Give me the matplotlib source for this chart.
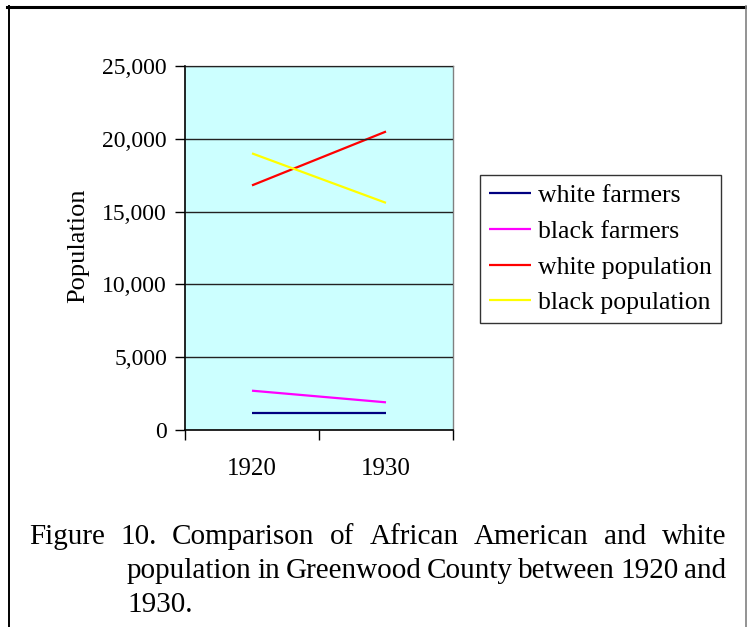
import matplotlib
matplotlib.use("Agg")
import matplotlib.pyplot as plt
from matplotlib.lines import Line2D
from matplotlib.ticker import FuncFormatter, FixedLocator

plt.rcParams['font.family'] = ['Liberation Serif', 'DejaVu Serif']

years = ["1920", "1930"]
series_names = ["white farmers", "black farmers", "white population", "black population"]
white_farmers = [1200, 1200]
black_farmers = [2700, 1900]
white_population = [16800, 20500]
black_population = [19000, 15600]
series_colors = ["#000080", "#FF00FF", "#FF0000", "#FFFF00"]
y_ticks = [0, 5000, 10000, 15000, 20000, 25000]

W, H = 747, 627
fig = plt.figure(figsize=(W / 100, H / 100), dpi=100)

def fx(px):
    return px / W

def fy(py):
    return 1 - py / H

ax = fig.add_axes([fx(185), fy(430), fx(453) - fx(185), fy(66) - fy(430)])
ax.set_facecolor("#CCFFFF")

xs = [1, 2]
for vals, name, col in zip([white_farmers, black_farmers, white_population, black_population],
                           series_names, series_colors):
    ax.plot(xs, vals, color=col, lw=1.6, label=name, solid_capstyle="butt")

ax.set_xlim(0.5, 2.5)
ax.set_ylim(0, 25000)
ax.yaxis.set_major_locator(FixedLocator(y_ticks))
ax.yaxis.set_major_formatter(FuncFormatter(lambda v, p: f"{int(v):,}"))
ax.grid(axis="y", color="#222222", lw=1.0)
ax.set_axisbelow(False)
for ln in ax.get_ygridlines():
    ln.set_zorder(1)

ax.set_xticks([0.5, 1.5, 2.5])
ax.set_xticklabels([])
ax.set_xticks(xs, minor=True)
ax.set_xticklabels(years, minor=True)
ax.tick_params(axis="x", which="major", direction="out", length=7, width=1, color="black")
ax.tick_params(axis="x", which="minor", length=0, pad=20, labelsize=18)
ax.tick_params(axis="y", direction="out", length=7, width=1, color="black", labelsize=17, pad=6)

for side in ["top", "right"]:
    ax.spines[side].set_color("#808080")
    ax.spines[side].set_linewidth(1)
for side in ["left", "bottom"]:
    ax.spines[side].set_color("black")
    ax.spines[side].set_linewidth(1.2)

fig.text(fx(78), fy(246), "Population", rotation=90, ha="center", va="center", fontsize=19)

leg = ax.legend(loc="upper left", bbox_to_anchor=(fx(480), fy(175)), bbox_transform=fig.transFigure,
                frameon=True, fancybox=False, fontsize=18.5, handlelength=1.65, handletextpad=0.25,
                labelspacing=0.5, borderpad=0.35, borderaxespad=0)
leg.get_frame().set_edgecolor("black")
leg.get_frame().set_linewidth(1.0)

# Outer frame of the figure box
fig.add_artist(Line2D([fx(7), fx(747)], [fy(7), fy(7)], color="black", lw=2.2, transform=fig.transFigure))
fig.add_artist(Line2D([fx(8.5), fx(8.5)], [fy(6), fy(627)], color="black", lw=1.4, transform=fig.transFigure))
fig.add_artist(Line2D([fx(745.5), fx(745.5)], [fy(6), fy(627)], color="#808080", lw=1.2, transform=fig.transFigure))

# Caption, justified between left and right margins
cap_size = 21
fig.canvas.draw()
renderer = fig.canvas.get_renderer()

def justified(words, x0, x1, ybase):
    texts = [fig.text(0, fy(ybase), w, fontsize=cap_size, ha="left", va="baseline") for w in words]
    widths = [t.get_window_extent(renderer).width for t in texts]
    gap = ((x1 - x0) - sum(widths)) / (len(words) - 1)
    x = x0
    for t, w in zip(texts, widths):
        t.set_x(fx(x))
        x += w + gap

justified("Figure 10. Comparison of African American and white".split(), 29, 726, 544)
justified("population in Greenwood County between 1920 and".split(), 127, 726, 578)
fig.text(fx(127), fy(612), "1930.", fontsize=cap_size, ha="left", va="baseline")

fig.savefig("out.png", dpi=100)
